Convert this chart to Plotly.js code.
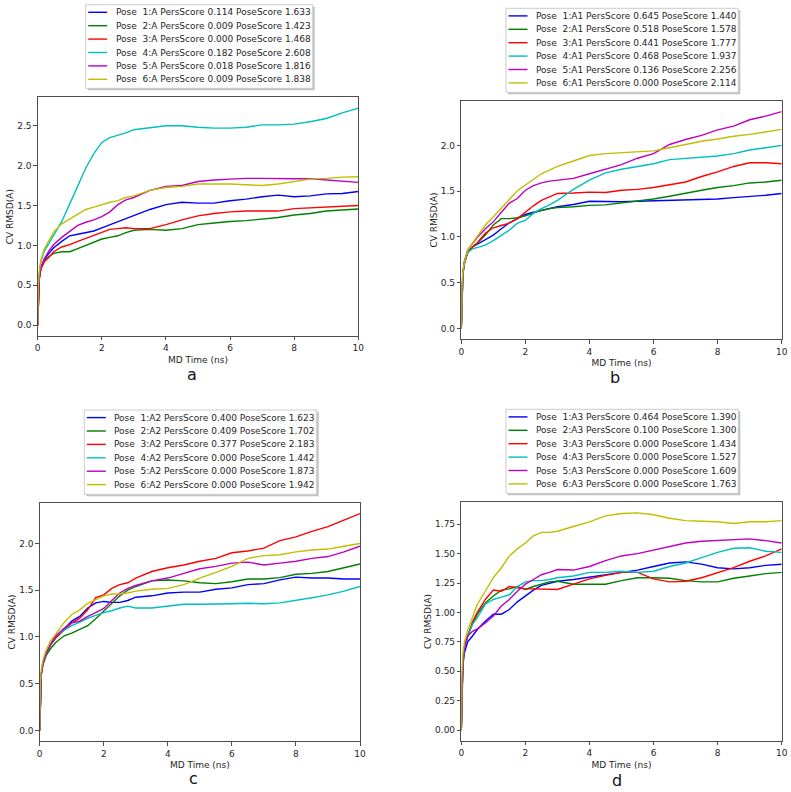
<!DOCTYPE html>
<html>
<head>
<meta charset="utf-8">
<script src="https://cdn.plot.ly/plotly-3.0.1.min.js"></script>
<style>
  html, body { margin: 0; padding: 0; background: #fff; }
  #chart { width: 791px; height: 792px; }
</style>
</head>
<body>
<div id="chart"></div>
<script>
// MD time axis (ns), shared by all runs
const time = [0, 0.02, 0.05, 0.1, 0.2, 0.35, 0.5, 0.75, 1, 1.25, 1.5, 1.75, 2, 2.25, 2.5, 2.75,
              3, 3.5, 4, 4.5, 5, 5.5, 6, 6.5, 7, 7.5, 8, 8.5, 9, 9.5, 10];

// Pose labels and scores per target
const panelLetters = ['a', 'b', 'c', 'd'];
const chains = ['A', 'A1', 'A2', 'A3'];
const poseIds = [1, 2, 3, 4, 5, 6];
const persA  = [0.114, 0.009, 0.000, 0.182, 0.018, 0.009];
const poseA  = [1.633, 1.423, 1.468, 2.608, 1.816, 1.838];
const persA1 = [0.645, 0.518, 0.441, 0.468, 0.136, 0.000];
const poseA1 = [1.440, 1.578, 1.777, 1.937, 2.256, 2.114];
const persA2 = [0.400, 0.409, 0.377, 0.000, 0.000, 0.000];
const poseA2 = [1.623, 1.702, 2.183, 1.442, 1.873, 1.942];
const persA3 = [0.464, 0.100, 0.000, 0.000, 0.000, 0.000];
const poseA3 = [1.390, 1.300, 1.434, 1.527, 1.609, 1.763];

// CV RMSD (A) traces, chain A
const rmsdA_1 = [0, 0.45, 0.6, 0.72, 0.82, 0.9, 0.97, 1.05, 1.12, 1.14, 1.16, 1.18, 1.22, 1.26, 1.30, 1.34, 1.38, 1.45, 1.51, 1.54, 1.53, 1.53, 1.56, 1.58, 1.61, 1.63, 1.61, 1.62, 1.645, 1.65, 1.675];
const rmsdA_2 = [0, 0.42, 0.58, 0.72, 0.80, 0.86, 0.90, 0.92, 0.92, 0.96, 1.00, 1.04, 1.08, 1.10, 1.12, 1.16, 1.19, 1.20, 1.19, 1.21, 1.26, 1.28, 1.30, 1.31, 1.33, 1.35, 1.38, 1.40, 1.43, 1.445, 1.455];
const rmsdA_3 = [0, 0.42, 0.58, 0.70, 0.79, 0.85, 0.92, 0.98, 1.01, 1.05, 1.09, 1.12, 1.16, 1.20, 1.21, 1.22, 1.21, 1.21, 1.26, 1.32, 1.37, 1.40, 1.42, 1.43, 1.43, 1.43, 1.46, 1.47, 1.48, 1.485, 1.50];
const rmsdA_4 = [0, 0.5, 0.66, 0.80, 0.92, 1.02, 1.12, 1.30, 1.52, 1.75, 1.97, 2.15, 2.29, 2.35, 2.38, 2.41, 2.45, 2.475, 2.50, 2.50, 2.48, 2.47, 2.47, 2.48, 2.51, 2.51, 2.52, 2.55, 2.59, 2.66, 2.72];
const rmsdA_5 = [0, 0.45, 0.6, 0.72, 0.83, 0.93, 1.01, 1.10, 1.18, 1.25, 1.29, 1.32, 1.36, 1.42, 1.51, 1.57, 1.60, 1.69, 1.74, 1.75, 1.80, 1.82, 1.83, 1.84, 1.84, 1.835, 1.835, 1.835, 1.82, 1.81, 1.79];
const rmsdA_6 = [0, 0.5, 0.66, 0.82, 0.95, 1.07, 1.17, 1.27, 1.33, 1.39, 1.45, 1.48, 1.51, 1.54, 1.56, 1.60, 1.62, 1.69, 1.725, 1.74, 1.77, 1.77, 1.77, 1.76, 1.75, 1.77, 1.80, 1.83, 1.84, 1.855, 1.86];

// chain A1
const rmsdA1_1 = [0, 0.45, 0.6, 0.72, 0.83, 0.89, 0.92, 0.97, 1.02, 1.09, 1.155, 1.20, 1.245, 1.27, 1.286, 1.31, 1.33, 1.355, 1.39, 1.385, 1.385, 1.39, 1.395, 1.40, 1.40, 1.41, 1.415, 1.43, 1.44, 1.455, 1.475];
const rmsdA1_2 = [0, 0.45, 0.6, 0.72, 0.83, 0.89, 0.93, 1.02, 1.13, 1.20, 1.20, 1.21, 1.23, 1.26, 1.29, 1.31, 1.32, 1.33, 1.345, 1.35, 1.37, 1.39, 1.415, 1.445, 1.48, 1.51, 1.54, 1.56, 1.59, 1.60, 1.62];
const rmsdA1_3 = [0, 0.45, 0.6, 0.72, 0.83, 0.89, 0.936, 1.04, 1.10, 1.125, 1.15, 1.20, 1.275, 1.34, 1.40, 1.44, 1.475, 1.48, 1.49, 1.485, 1.51, 1.52, 1.54, 1.57, 1.60, 1.66, 1.71, 1.77, 1.81, 1.81, 1.80];
const rmsdA1_4 = [0, 0.45, 0.6, 0.72, 0.83, 0.87, 0.885, 0.91, 0.96, 1.02, 1.075, 1.15, 1.18, 1.26, 1.31, 1.35, 1.40, 1.52, 1.62, 1.70, 1.74, 1.77, 1.80, 1.845, 1.86, 1.87, 1.885, 1.91, 1.95, 1.975, 2.00];
const rmsdA1_5 = [0, 0.47, 0.62, 0.74, 0.86, 0.93, 0.995, 1.09, 1.165, 1.27, 1.37, 1.42, 1.51, 1.56, 1.59, 1.61, 1.62, 1.64, 1.69, 1.74, 1.79, 1.86, 1.91, 2.01, 2.065, 2.11, 2.17, 2.21, 2.28, 2.32, 2.37];
const rmsdA1_6 = [0, 0.47, 0.62, 0.74, 0.86, 0.93, 1.00, 1.13, 1.22, 1.31, 1.41, 1.505, 1.57, 1.63, 1.69, 1.73, 1.77, 1.83, 1.89, 1.91, 1.92, 1.93, 1.94, 1.975, 2.01, 2.045, 2.07, 2.10, 2.12, 2.15, 2.175];

// chain A2
const rmsdA2_1 = [0, 0.45, 0.6, 0.72, 0.82, 0.92, 0.99, 1.08, 1.17, 1.22, 1.31, 1.365, 1.38, 1.37, 1.37, 1.39, 1.425, 1.44, 1.47, 1.48, 1.48, 1.51, 1.525, 1.56, 1.57, 1.61, 1.64, 1.63, 1.63, 1.62, 1.62];
const rmsdA2_2 = [0, 0.45, 0.6, 0.70, 0.80, 0.88, 0.94, 1.01, 1.04, 1.08, 1.12, 1.195, 1.28, 1.36, 1.44, 1.50, 1.54, 1.60, 1.61, 1.60, 1.58, 1.57, 1.59, 1.62, 1.62, 1.635, 1.67, 1.68, 1.70, 1.74, 1.78];
const rmsdA2_3 = [0, 0.45, 0.6, 0.72, 0.82, 0.92, 0.99, 1.07, 1.15, 1.20, 1.29, 1.42, 1.45, 1.52, 1.56, 1.58, 1.63, 1.70, 1.74, 1.77, 1.81, 1.84, 1.90, 1.92, 1.95, 2.03, 2.07, 2.13, 2.18, 2.25, 2.32];
const rmsdA2_4 = [0, 0.45, 0.6, 0.72, 0.82, 0.93, 1.01, 1.07, 1.12, 1.16, 1.20, 1.23, 1.26, 1.28, 1.31, 1.33, 1.31, 1.31, 1.33, 1.35, 1.35, 1.35, 1.355, 1.36, 1.355, 1.365, 1.39, 1.42, 1.45, 1.49, 1.54];
const rmsdA2_5 = [0, 0.45, 0.6, 0.72, 0.82, 0.93, 1.01, 1.09, 1.15, 1.17, 1.22, 1.26, 1.305, 1.39, 1.47, 1.52, 1.55, 1.60, 1.63, 1.68, 1.73, 1.755, 1.79, 1.80, 1.77, 1.79, 1.81, 1.84, 1.86, 1.91, 1.97];
const rmsdA2_6 = [0, 0.5, 0.65, 0.75, 0.86, 0.96, 1.03, 1.15, 1.24, 1.29, 1.36, 1.40, 1.44, 1.46, 1.46, 1.47, 1.49, 1.51, 1.52, 1.56, 1.63, 1.69, 1.755, 1.84, 1.87, 1.88, 1.91, 1.93, 1.94, 1.97, 2.00];

// chain A3
const rmsdA3_1 = [0, 0.4, 0.55, 0.66, 0.75, 0.80, 0.855, 0.925, 0.985, 0.985, 1.025, 1.09, 1.14, 1.19, 1.23, 1.25, 1.265, 1.28, 1.30, 1.32, 1.34, 1.36, 1.39, 1.42, 1.43, 1.41, 1.38, 1.37, 1.38, 1.40, 1.41];
const rmsdA3_2 = [0, 0.45, 0.6, 0.70, 0.80, 0.90, 0.985, 1.08, 1.14, 1.19, 1.20, 1.22, 1.195, 1.22, 1.24, 1.26, 1.265, 1.24, 1.24, 1.24, 1.27, 1.295, 1.295, 1.29, 1.27, 1.26, 1.26, 1.29, 1.31, 1.33, 1.34];
const rmsdA3_3 = [0, 0.45, 0.6, 0.70, 0.80, 0.92, 1.00, 1.11, 1.19, 1.18, 1.22, 1.21, 1.20, 1.20, 1.20, 1.20, 1.195, 1.24, 1.285, 1.315, 1.34, 1.34, 1.285, 1.26, 1.265, 1.295, 1.34, 1.38, 1.435, 1.48, 1.54];
const rmsdA3_4 = [0, 0.45, 0.6, 0.70, 0.80, 0.90, 0.955, 1.07, 1.11, 1.13, 1.15, 1.22, 1.26, 1.27, 1.27, 1.28, 1.295, 1.31, 1.34, 1.34, 1.35, 1.34, 1.35, 1.39, 1.42, 1.465, 1.51, 1.545, 1.55, 1.52, 1.51];
const rmsdA3_5 = [0, 0.45, 0.6, 0.70, 0.80, 0.84, 0.86, 0.91, 0.97, 1.055, 1.11, 1.18, 1.24, 1.28, 1.32, 1.34, 1.365, 1.36, 1.39, 1.44, 1.48, 1.50, 1.53, 1.56, 1.59, 1.605, 1.61, 1.615, 1.625, 1.61, 1.59];
const rmsdA3_6 = [0, 0.5, 0.65, 0.75, 0.85, 0.96, 1.07, 1.18, 1.295, 1.38, 1.48, 1.54, 1.59, 1.65, 1.68, 1.68, 1.69, 1.73, 1.77, 1.82, 1.84, 1.846, 1.83, 1.80, 1.78, 1.775, 1.77, 1.755, 1.77, 1.77, 1.78];

const panels = [
  { chain: chains[0], pers: persA,  pose: poseA,  series: [rmsdA_1, rmsdA_2, rmsdA_3, rmsdA_4, rmsdA_5, rmsdA_6] },
  { chain: chains[1], pers: persA1, pose: poseA1, series: [rmsdA1_1, rmsdA1_2, rmsdA1_3, rmsdA1_4, rmsdA1_5, rmsdA1_6] },
  { chain: chains[2], pers: persA2, pose: poseA2, series: [rmsdA2_1, rmsdA2_2, rmsdA2_3, rmsdA2_4, rmsdA2_5, rmsdA2_6] },
  { chain: chains[3], pers: persA3, pose: poseA3, series: [rmsdA3_1, rmsdA3_2, rmsdA3_3, rmsdA3_4, rmsdA3_5, rmsdA3_6] }
];

// ---- styling ----
const W = 791, H = 792;
const colors = ['#0000ff', '#008000', '#ff0000', '#00bfbf', '#bf00bf', '#bfbf00'];
const FONT = 'DejaVu Sans, Verdana, sans-serif';
const ink = '#262626';

// plot boxes in pixels: [left, right, top, bottom]
const boxes = [
  [37.7, 358.3, 97.3, 336.0],
  [461.3, 781.7, 100.7, 339.3],
  [39.7, 360.0, 502.7, 741.3],
  [461.3, 781.7, 502.0, 741.0]
];
// legend frames in pixels: [left, right, top, bottom]
const legendBoxes = [
  [85.7, 312.7, 4.7, 88.3],
  [506.0, 738.3, 8.3, 92.3],
  [84.3, 316.7, 410.0, 494.3],
  [506.0, 738.3, 409.3, 493.3]
];
// panel letters: [centre x, bottom y]
const letterPos = [[192, 386], [615, 389], [193, 790], [617, 792]];
const yDtick = [0.5, 0.5, 0.5, 0.25];
const yFormat = ['.1f', '.1f', '.1f', '.2f'];

const px = x => x / W;
const py = y => 1 - y / H;

const traces = [];
const layout = {
  width: W, height: H,
  margin: { l: 0, r: 0, t: 0, b: 0 },
  paper_bgcolor: '#fff', plot_bgcolor: '#fff',
  showlegend: false,
  font: { family: FONT, size: 9, color: ink },
  shapes: [], annotations: []
};

panels.forEach((p, i) => {
  const n = i + 1;
  const xa = 'xaxis' + (n === 1 ? '' : n);
  const ya = 'yaxis' + (n === 1 ? '' : n);
  const xr = 'x' + (n === 1 ? '' : n);
  const yr = 'y' + (n === 1 ? '' : n);

  let lo = Infinity, hi = -Infinity;
  p.series.forEach(s => s.forEach(v => { lo = Math.min(lo, v); hi = Math.max(hi, v); }));
  const pad = 0.05 * (hi - lo);

  p.series.forEach((s, k) => {
    traces.push({
      type: 'scatter', mode: 'lines',
      x: time, y: s, xaxis: xr, yaxis: yr,
      name: 'Pose\u00a0 ' + poseIds[k] + ':' + p.chain,
      line: { color: colors[k], width: 1.4 },
      hoverinfo: 'x+y+name'
    });
  });

  const b = boxes[i];
  const axisCommon = {
    showline: true, mirror: true, linecolor: '#3a3a3a', linewidth: 0.9,
    ticks: 'outside', ticklen: 3.5, tickwidth: 0.9, tickcolor: '#3a3a3a',
    showgrid: false, zeroline: false, automargin: false,
    tickfont: { family: FONT, size: 9, color: ink }
  };
  layout[xa] = Object.assign({}, axisCommon, {
    domain: [px(b[0]), px(b[1])], anchor: yr,
    range: [0, 10], dtick: 2, tick0: 0,
    title: { text: 'MD Time (ns)', font: { family: FONT, size: 9, color: ink }, standoff: 4 }
  });
  layout[ya] = Object.assign({}, axisCommon, {
    domain: [py(b[3]), py(b[2])], anchor: xr,
    range: [lo - pad, hi + pad], dtick: yDtick[i], tick0: 0, tickformat: yFormat[i],
    title: { text: 'CV RMSD(A)', font: { family: FONT, size: 9, color: ink }, standoff: 1.5 }
  });

  // legend frame with drop shadow
  const lb = legendBoxes[i];
  layout.shapes.push({
    type: 'rect', xref: 'paper', yref: 'paper', layer: 'above',
    x0: px(lb[0] + 2), x1: px(lb[1] + 2), y0: py(lb[3] + 2), y1: py(lb[2] + 2),
    fillcolor: 'rgba(120,120,120,0.45)', line: { width: 0 }
  });
  layout.shapes.push({
    type: 'rect', xref: 'paper', yref: 'paper', layer: 'above',
    x0: px(lb[0]), x1: px(lb[1]), y0: py(lb[3]), y1: py(lb[2]),
    fillcolor: '#ffffff', line: { color: '#cccccc', width: 1 }
  });
  p.series.forEach((s, k) => {
    const yy = lb[2] + 7.6 + k * 13.4;
    layout.shapes.push({
      type: 'line', xref: 'paper', yref: 'paper', layer: 'above',
      x0: px(lb[0] + 2.5), x1: px(lb[0] + 21.5), y0: py(yy), y1: py(yy),
      line: { color: colors[k], width: 1.4 }
    });
    layout.annotations.push({
      xref: 'paper', yref: 'paper', x: px(lb[0] + 28), y: py(yy),
      xanchor: 'left', yanchor: 'middle', showarrow: false,
      text: 'Pose\u00a0 ' + poseIds[k] + ':' + p.chain + ' PersScore ' + p.pers[k].toFixed(3) +
            ' PoseScore ' + p.pose[k].toFixed(3),
      font: { family: FONT, size: 9, color: ink }
    });
  });

  // panel letter
  layout.annotations.push({
    xref: 'paper', yref: 'paper', x: px(letterPos[i][0]), y: py(letterPos[i][1]),
    xanchor: 'center', yanchor: 'bottom', showarrow: false,
    text: panelLetters[i], font: { family: FONT, size: 16, color: '#111' }
  });
});

Plotly.newPlot('chart', traces, layout, { staticPlot: true, displayModeBar: false });
</script>
</body>
</html>
